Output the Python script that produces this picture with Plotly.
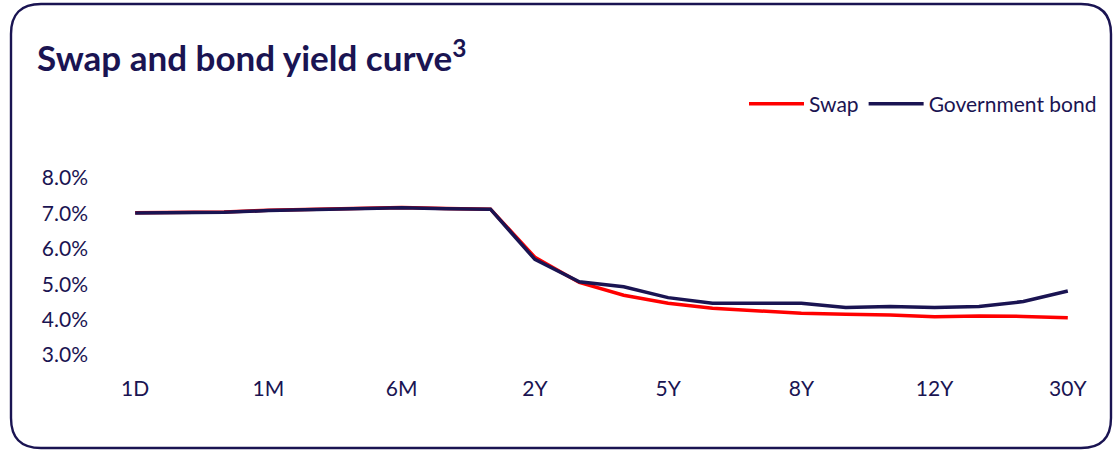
import plotly.graph_objects as go

tenors = ["1D", "1W", "2W", "1M", "2M", "3M", "6M", "9M", "1Y", "2Y", "3Y",
          "4Y", "5Y", "6Y", "7Y", "8Y", "9Y", "10Y", "12Y", "15Y", "20Y", "30Y"]
swap = [7.02, 7.03, 7.04, 7.09, 7.12, 7.13, 7.17, 7.14, 7.12, 5.76, 5.05,
        4.69, 4.46, 4.32, 4.24, 4.18, 4.15, 4.13, 4.08, 4.10, 4.09, 4.05]
bond = [7.01, 7.02, 7.03, 7.08, 7.11, 7.12, 7.16, 7.13, 7.12, 5.70, 5.07,
        4.93, 4.62, 4.46, 4.46, 4.46, 4.34, 4.37, 4.34, 4.37, 4.51, 4.81]
x_tick_labels = ["1D", "1M", "6M", "2Y", "5Y", "8Y", "12Y", "30Y"]
y_ticks = [3, 4, 5, 6, 7, 8]
y_tick_labels = [f"{v:.1f}%" for v in y_ticks]

W, H = 1115, 451
L, R, T, B = 113, 25, 178, 96
PW, PH = W - L - R, H - T - B
NAVY = "#1a1452"
FONT = "Lato"


def px(x):
    return (x - L) / PW


def py(y):
    return (H - B - y) / PH


def rounded_path(x0, y0, x1, y1, r):
    pts = [
        ("M", [(x0 + r, y0)]), ("L", [(x1 - r, y0)]), ("Q", [(x1, y0), (x1, y0 + r)]),
        ("L", [(x1, y1 - r)]), ("Q", [(x1, y1), (x1 - r, y1)]),
        ("L", [(x0 + r, y1)]), ("Q", [(x0, y1), (x0, y1 - r)]),
        ("L", [(x0, y0 + r)]), ("Q", [(x0, y0), (x0 + r, y0)]),
    ]
    s = ""
    for cmd, ps in pts:
        s += cmd + " " + " ".join(f"{px(a):.5f},{py(b):.5f}" for a, b in ps) + " "
    return s + "Z"


fig = go.Figure()
fig.add_trace(go.Scatter(x=tenors, y=swap, mode="lines", name="Swap",
                         line=dict(color="#ff0000", width=3.5)))
fig.add_trace(go.Scatter(x=tenors, y=bond, mode="lines", name="Government bond",
                         line=dict(color=NAVY, width=3.5)))

fig.update_layout(
    width=W, height=H,
    margin=dict(l=L, r=R, t=T, b=B),
    paper_bgcolor="white", plot_bgcolor="white",
    font=dict(family=FONT, color=NAVY, size=21),
    title=dict(text="<b>Swap and bond yield curve<sup>3</sup></b>",
               font=dict(family=FONT, size=35, color=NAVY),
               x=37 / W, xanchor="left", xref="container",
               y=1 - 59 / H, yanchor="middle", yref="container"),
    showlegend=True,
    legend=dict(orientation="h", x=px(1102), xanchor="right",
                y=py(104), yanchor="middle",
                font=dict(family=FONT, size=21, color=NAVY),
                bgcolor="rgba(0,0,0,0)", itemwidth=55, traceorder="normal"),
    xaxis=dict(type="category", range=[-0.5, len(tenors) - 0.5],
               tickmode="array", tickvals=[tenors.index(t) for t in x_tick_labels],
               ticktext=x_tick_labels,
               showgrid=False, zeroline=False, showline=False, ticks="",
               ticklabelstandoff=19, tickfont=dict(size=21, color=NAVY)),
    yaxis=dict(range=[3, 8], tickmode="array", tickvals=y_ticks, ticktext=y_tick_labels,
               showgrid=False, zeroline=False, showline=False, ticks="",
               ticklabelstandoff=24, tickfont=dict(size=21, color=NAVY)),
    shapes=[dict(type="path", xref="paper", yref="paper",
                 path=rounded_path(11, 4, 1111, 448, 30),
                 line=dict(color=NAVY, width=2.4), fillcolor="rgba(0,0,0,0)",
                 layer="above")],
)

fig.write_html("out.html")
